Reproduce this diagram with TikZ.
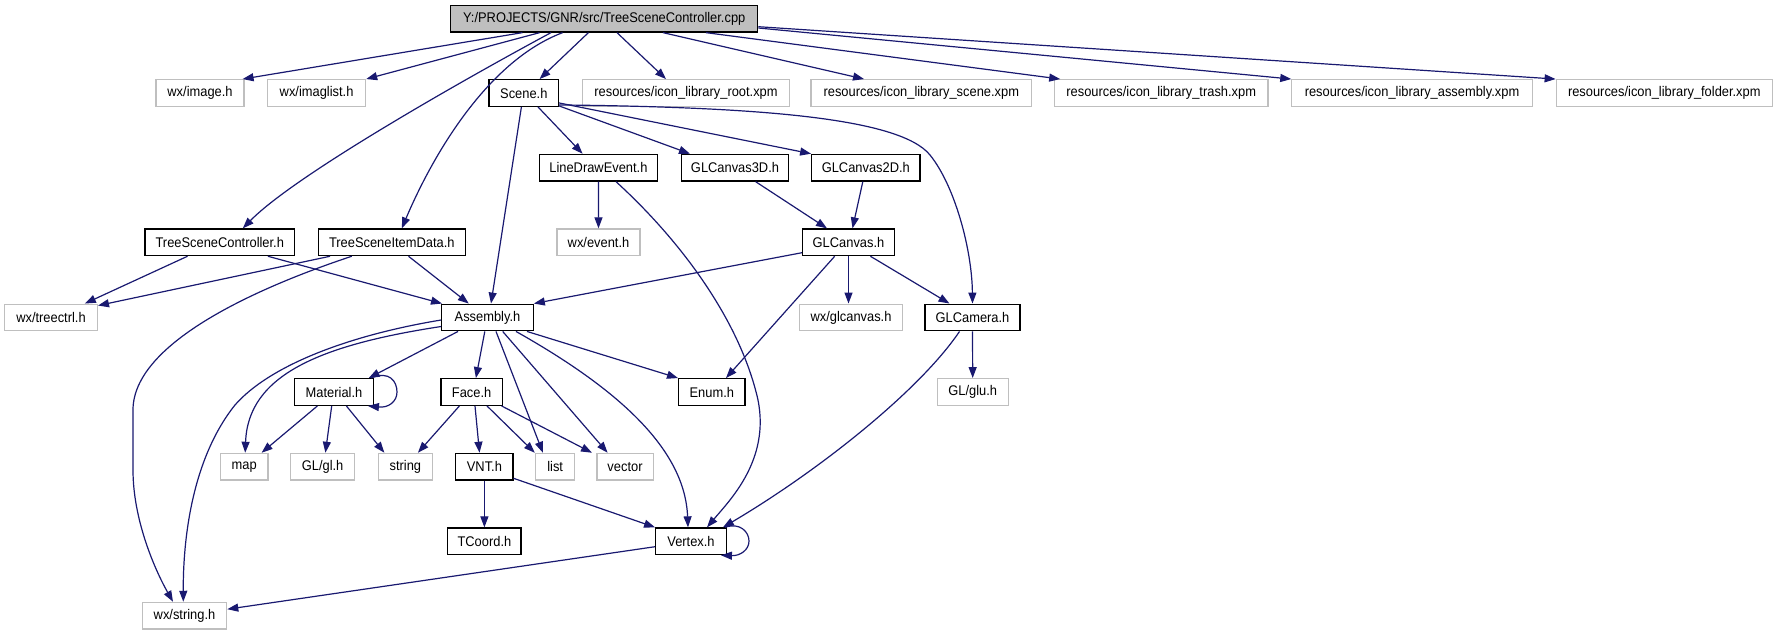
\documentclass[tikz,border=0pt]{standalone}
\usepackage{fontspec}
\setmainfont{Liberation Sans}
\newfontfamily\dxfam{Liberation Sans}[FakeStretch=0.92]
\usetikzlibrary{arrows.meta}
\definecolor{edgec}{HTML}{191970}
\definecolor{greyc}{HTML}{BFBFBF}
\newcommand\dxfont{\dxfam\fontsize{14pt}{16pt}\selectfont}
\begin{document}
\begin{tikzpicture}[x=1pt,y=-1pt,
 nd/.style={draw, line width=1.2pt, minimum height=26.7pt, inner sep=0pt, font=\dxfont},
 doc/.style={nd, draw=black},
 ext/.style={nd, draw=greyc},
 conn/.style={draw=edgec, line width=1.2pt, -{Triangle[length=11pt,width=8pt]}},
]
\useasboundingbox (0,0) rectangle (1777,635);
% row 1
\node[doc, fill=greyc, minimum width=307pt] (root) at (604.2,18.7) {Y:/PROJECTS/GNR/src/TreeSceneController.cpp};
% row 2
\node[ext, minimum width=88pt] (img) at (200,93) {wx/image.h};
\node[ext, minimum width=98pt] (imgl) at (316.6,93) {wx/imaglist.h};
\node[doc, minimum width=69.5pt] (scene) at (523.8,93) {Scene.h};
\node[ext, minimum width=206.6pt] (iroot) at (686,93) {resources/icon\_library\_root.xpm};
\node[ext, minimum width=220.6pt] (iscene) at (921.3,93) {resources/icon\_library\_scene.xpm};
\node[ext, minimum width=213.4pt] (itrash) at (1161.2,93) {resources/icon\_library\_trash.xpm};
\node[ext, minimum width=240.3pt] (iasm) at (1412,93) {resources/icon\_library\_assembly.xpm};
\node[ext, minimum width=216.2pt] (ifold) at (1664.3,93) {resources/icon\_library\_folder.xpm};
% row 3
\node[doc, minimum width=117.4pt] (lde) at (598.4,167.7) {LineDrawEvent.h};
\node[doc, minimum width=107.7pt] (gl3) at (735,167.7) {GLCanvas3D.h};
\node[doc, minimum width=108.2pt] (gl2) at (865.8,167.7) {GLCanvas2D.h};
% row 4
\node[doc, minimum width=149.6pt] (tsc) at (219.8,242.3) {TreeSceneController.h};
\node[doc, minimum width=146.9pt] (tsid) at (391.8,242.3) {TreeSceneItemData.h};
\node[ext, minimum width=83pt] (wxev) at (598.5,242.3) {wx/event.h};
\node[doc, minimum width=91.8pt] (glc) at (848.5,242.3) {GLCanvas.h};
% row 5
\node[ext, minimum width=92.8pt] (tree) at (51,317.5) {wx/treectrl.h};
\node[doc, minimum width=91.5pt] (asm) at (487.5,317.5) {Assembly.h};
\node[ext, minimum width=103pt] (glcv) at (851,317.5) {wx/glcanvas.h};
\node[doc, minimum width=95pt] (cam) at (972.5,317.5) {GLCamera.h};
% row 6
\node[doc, minimum width=78.7pt] (mat) at (334,392) {Material.h};
\node[doc, minimum width=61.2pt] (face) at (471.6,392) {Face.h};
\node[doc, minimum width=66.4pt] (enum) at (711.8,392) {Enum.h};
\node[ext, minimum width=70.8pt] (glu) at (972.7,392) {GL/glu.h};
% row 7
\node[ext, minimum width=47.4pt] (map) at (244.2,466.7) {map};
\node[ext, minimum width=63.9pt] (gl) at (322.6,466.7) {GL/gl.h};
\node[ext, minimum width=53.6pt] (str) at (405.4,466.7) {string};
\node[doc, minimum width=57.2pt] (vnt) at (484.4,466.7) {VNT.h};
\node[ext, minimum width=38.9pt] (list) at (555.2,466.7) {list};
\node[ext, minimum width=56.2pt] (vec) at (625,466.7) {vector};
% row 8
\node[doc, minimum width=73.2pt] (tco) at (484.4,541.3) {TCoord.h};
\node[doc, minimum width=70.7pt] (vtx) at (691,541.3) {Vertex.h};
% row 9
\node[ext, minimum width=84.4pt] (wxs) at (184.5,615.7) {wx/string.h};

% root edges
\draw[conn] ([xshift=-81.8pt]root.south) -- ([xshift=-2pt]img.north east);
\draw[conn] ([xshift=-64.6pt]root.south) -- (imgl.north east);
\draw[conn] ([xshift=-15.8pt]root.south) -- ([xshift=15.8pt]scene.north);
\draw[conn] ([xshift=12.8pt]root.south) -- ([xshift=-20pt]iroot.north);
\draw[conn] ([xshift=58.8pt]root.south) -- ([xshift=-57.3pt]iscene.north);
\draw[conn] ([xshift=101.8pt]root.south) -- ([xshift=-101pt]itrash.north);
\draw[conn] ([yshift=-9.3pt]root.east) -- (iasm.north west);
\draw[conn] ([yshift=-8pt]root.east) -- (ifold.north west);
\draw[conn] ([xshift=-53.2pt]root.south) .. controls (500,60) and (300,170) .. ([xshift=23pt]tsc.north);
\draw[conn] ([xshift=-41.6pt]root.south) .. controls (490,60) and (435,150) .. ([xshift=10pt]tsid.north);
% Scene.h
\draw[conn] ([xshift=-2.4pt]scene.south) -- ([xshift=3.5pt]asm.north);
\draw[conn] ([xshift=14.2pt]scene.south) -- ([xshift=-15.8pt]lde.north);
\draw[conn] ([yshift=1pt]scene.south east) -- ([xshift=-45pt]gl3.north);
\draw[conn] ([yshift=4pt]scene.south east) -- (gl2.north west);
\draw[conn] ([yshift=2pt]scene.south east) .. controls (760,107) and (900,118) .. (930,155) .. controls (955,186) and (972,250) .. (cam.north);
% LineDrawEvent.h
\draw[conn] (lde.south) -- (wxev.north);
\draw[conn] ([xshift=17.6pt]lde.south) .. controls (680,240) and (740,320) .. (758,400) .. controls (770,460) and (730,500) .. ([xshift=16pt]vtx.north);
% GLCanvas3D/2D
\draw[conn] ([xshift=20.6pt]gl3.south) -- ([xshift=-21.5pt]glc.north);
\draw[conn] ([xshift=-3pt]gl2.south) -- ([xshift=4pt]glc.north);
% GLCanvas.h
\draw[conn] ([yshift=-10.4pt]glc.west) -- (asm.north east);
\draw[conn] (glc.south) -- ([xshift=-2.5pt]glcv.north);
\draw[conn] ([xshift=21.9pt]glc.south) -- ([xshift=-23pt]cam.north);
\draw[conn] ([xshift=-13.8pt]glc.south) -- ([xshift=14.2pt]enum.north);
% GLCamera.h
\draw[conn] (cam.south) -- (glu.north);
\draw[conn] ([xshift=-13pt]cam.south) .. controls (920,390) and (820,470) .. ([xshift=-4pt]vtx.north east);
% TreeSceneController.h
\draw[conn] ([xshift=-32.3pt]tsc.south) -- ([xshift=33.8pt]tree.north);
\draw[conn] ([xshift=48.1pt]tsc.south) -- ([xshift=-45.5pt]asm.north);
% TreeSceneItemData.h
\draw[conn] ([xshift=-61.7pt]tsid.south) -- ([yshift=-2pt]tree.north east);
\draw[conn] ([xshift=16.7pt]tsid.south) -- ([xshift=-18.7pt]asm.north);
\draw[conn] ([xshift=-40pt]tsid.south) .. controls (250,290) and (133,345) .. (133,410) -- (133,470) .. controls (133,520) and (155,570) .. ([xshift=-11.5pt]wxs.north);
% Assembly.h
\draw[conn] ([yshift=-2.5pt]asm.west) .. controls (350,335) and (270,365) .. (235,405) .. controls (195,455) and (183,530) .. ([xshift=-1.2pt]wxs.north);
\draw[conn] ([yshift=-9pt]asm.west) .. controls (320,345) and (248,375) .. ([xshift=1pt]map.north);
\draw[conn] ([xshift=-29.5pt]asm.south) -- ([xshift=34.7pt]mat.north);
\draw[conn] ([xshift=-2.7pt]asm.south) -- ([xshift=4.3pt]face.north);
\draw[conn] ([xshift=39.5pt]asm.south) -- (enum.north west);
\draw[conn] ([xshift=8.5pt]asm.south) -- ([xshift=-12.3pt]list.north);
\draw[conn] ([xshift=15.2pt]asm.south) -- ([xshift=-17.4pt]vec.north);
\draw[conn] ([xshift=28.5pt]asm.south) .. controls (620,390) and (685,450) .. ([xshift=-3pt]vtx.north);
% Material.h
\draw[conn] ([xshift=-16.6pt]mat.south) -- ([xshift=17.4pt]map.north);
\draw[conn] ([xshift=-2.3pt]mat.south) -- ([xshift=2.8pt]gl.north);
\draw[conn] ([xshift=12.4pt]mat.south) -- ([xshift=-21pt]str.north);
\draw[conn] ([xshift=-3pt]mat.north east) .. controls (390,370) and (397,382) .. (397,392) .. controls (397,402) and (388,408) .. ([xshift=-6pt]mat.south east);
% Face.h
\draw[conn] ([xshift=-12.2pt]face.south) -- ([xshift=12.5pt]str.north);
\draw[conn] ([xshift=3.4pt]face.south) -- ([xshift=-4.9pt]vnt.north);
\draw[conn] ([xshift=15.4pt]face.south) -- ([xshift=-20.4pt]list.north);
\draw[conn] ([xshift=30pt]face.south) -- ([xshift=-33pt]vec.north);
% VNT.h
\draw[conn] (vnt.south) -- (tco.north);
\draw[conn] ([yshift=-11.6pt]vnt.east) -- (vtx.north west);
% Vertex.h
\draw[conn] ([yshift=-5.4pt]vtx.west) -- ([yshift=6.5pt]wxs.east);
\draw[conn] ([xshift=-2pt]vtx.north east) .. controls (740,522) and (749,532) .. (749,541) .. controls (749,550) and (740,556) .. ([xshift=-6pt]vtx.south east);
\end{tikzpicture}
\end{document}
